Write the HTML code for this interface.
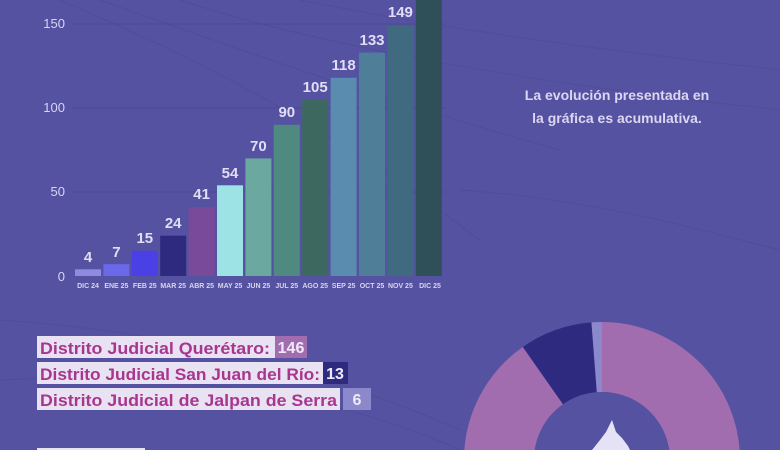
<!DOCTYPE html>
<html><head><meta charset="utf-8"><style>
html,body{margin:0;width:780px;height:450px;overflow:hidden;background:#5553a1;font-family:"Liberation Sans",sans-serif}
svg{display:block}
</style></head><body>
<svg width="780" height="450" xmlns="http://www.w3.org/2000/svg" style="position:absolute;left:0;top:0;overflow:hidden">
<g fill="none" stroke="#4c4a94" stroke-width="1" opacity="0.6">
<path d="M60,0 C200,60 320,120 480,240"/>
<path d="M100,0 C240,50 380,100 560,150"/>
<path d="M180,0 C300,40 500,80 780,110"/>
<path d="M300,0 C450,30 600,50 780,70"/>
<path d="M0,320 C150,330 300,360 460,430"/>
<path d="M0,380 C200,370 350,400 460,450"/>
<path d="M460,190 C600,200 700,230 780,250"/>
</g>
<g stroke="#4a488f" stroke-width="1">
<line x1="72" y1="24" x2="445" y2="24"/><line x1="72" y1="108" x2="445" y2="108"/><line x1="72" y1="192" x2="445" y2="192"/>
</g>
<g font-size="13" fill="#d8d4f0" text-anchor="end">
<text x="65" y="28">150</text><text x="65" y="112">100</text><text x="65" y="196">50</text><text x="65" y="281">0</text>
</g>
<rect x="75" y="269.3" width="26" height="6.7" fill="#8e8be0"/>
<rect x="103.4" y="264.2" width="26" height="11.8" fill="#6b68ea"/>
<rect x="131.8" y="250.8" width="26" height="25.2" fill="#4a40e6"/>
<rect x="160.2" y="235.7" width="26" height="40.3" fill="#2e2a80"/>
<rect x="188.6" y="207.1" width="26" height="68.9" fill="#7a4a9a"/>
<rect x="217" y="185.3" width="26" height="90.7" fill="#9de3e6"/>
<rect x="245.4" y="158.4" width="26" height="117.6" fill="#6aa8a0"/>
<rect x="273.8" y="124.8" width="26" height="151.2" fill="#4f8a80"/>
<rect x="302.2" y="99.6" width="26" height="176.4" fill="#3d6860"/>
<rect x="330.6" y="77.8" width="26" height="198.2" fill="#5a8cb0"/>
<rect x="359" y="52.6" width="26" height="223.4" fill="#4f7f98"/>
<rect x="387.4" y="25.7" width="26" height="250.3" fill="#3f6a80"/>
<rect x="415.8" y="-5" width="26" height="281" fill="#2f5058"/>
<g font-size="15" font-weight="bold" fill="#e0ddf5" text-anchor="middle">
<text x="88" y="262">4</text><text x="116.4" y="257">7</text><text x="144.8" y="243">15</text><text x="173.2" y="228">24</text>
<text x="201.6" y="199">41</text><text x="230" y="178">54</text><text x="258.4" y="151">70</text><text x="286.8" y="117">90</text>
<text x="315.2" y="92">105</text><text x="343.6" y="70">118</text><text x="372" y="45">133</text><text x="400.4" y="17">149</text>
</g>
<g font-size="7" font-weight="bold" fill="#d8d4f0" text-anchor="middle">
<text x="88" y="288">DIC 24</text><text x="116.4" y="288">ENE 25</text><text x="144.8" y="288">FEB 25</text><text x="173.2" y="288">MAR 25</text>
<text x="201.6" y="288">ABR 25</text><text x="230" y="288">MAY 25</text><text x="258.4" y="288">JUN 25</text><text x="286.8" y="288">JUL 25</text>
<text x="315.2" y="288">AGO 25</text><text x="343.6" y="288">SEP 25</text><text x="372" y="288">OCT 25</text><text x="400.4" y="288">NOV 25</text><text x="430" y="288">DIC 25</text>
</g>
<g font-size="14" font-weight="bold" fill="#dcd6f2" text-anchor="middle">
<text x="617" y="100">La evolución presentada en</text>
<text x="617" y="123">la gráfica es acumulativa.</text>
</g>
<g transform="rotate(-90 602 460)" fill="none" stroke-width="70">
<circle cx="602" cy="460" r="103" stroke="#a26daf" stroke-dasharray="584 647.2"/>
<circle cx="602" cy="460" r="103" stroke="#2e2a80" stroke-dasharray="0 584 55 647.2"/>
<circle cx="602" cy="460" r="103" stroke="#8b88cc" stroke-dasharray="0 639 8.2 647.2"/>
</g>
<circle cx="602" cy="460" r="68" fill="#5553a1"/>
<path d="M592,450 L600,440 L606,432 L612,420 L616,432 L622,438 L628,446 L630,450 Z" fill="#e6e2f5"/>
<rect x="37" y="336" width="238" height="22" fill="#e9e2f2"/>
<rect x="275" y="336" width="32" height="22" fill="#a26daf"/>
<rect x="37" y="362" width="286" height="22" fill="#e9e2f2"/>
<rect x="323" y="362" width="25" height="22" fill="#2e2a80"/>
<rect x="37" y="388" width="303" height="22" fill="#e9e2f2"/>
<rect x="343" y="388" width="28" height="22" fill="#8b88cc"/>
<g font-size="17" font-weight="bold" fill="#a8368f">
<text x="40" y="354" textLength="230" lengthAdjust="spacingAndGlyphs">Distrito Judicial Querétaro:</text>
<text x="40" y="380" textLength="280" lengthAdjust="spacingAndGlyphs">Distrito Judicial San Juan del Río:</text>
<text x="40" y="406" textLength="297" lengthAdjust="spacingAndGlyphs">Distrito Judicial de Jalpan de Serra</text>
</g>
<g font-size="16" font-weight="bold" fill="#eeeaf8" text-anchor="middle">
<text x="291" y="353">146</text><text x="335" y="379">13</text><text x="357" y="405">6</text>
</g>
<rect x="37" y="448" width="108" height="2" fill="#e9e2f2"/>
</svg>
</body></html>
